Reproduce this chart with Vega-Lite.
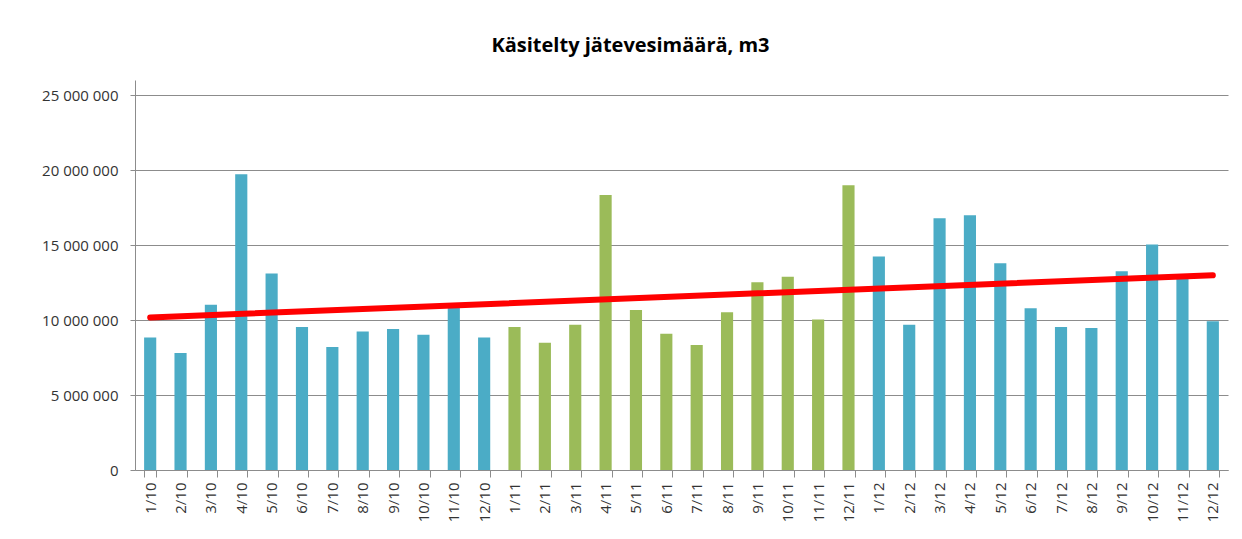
{
  "$schema": "https://vega.github.io/schema/vega-lite/v6.json",
  "width": 1093,
  "height": 390,
  "autosize": {"type": "none"},
  "padding": {"left": 135, "top": 80, "right": 14, "bottom": 69},
  "background": "white",
  "config": {
    "locale": {"number": {"decimal": ",", "thousands": " ", "grouping": [3], "currency": ["", " €"]}},
    "view": {"stroke": null},
    "font": "Open Sans"
  },
  "title": {
    "text": "Käsitelty jätevesimäärä, m3",
    "fontSize": 20,
    "fontWeight": "bold",
    "font": "Open Sans",
    "color": "#000000",
    "anchor": "middle",
    "dx": -51,
    "offset": 24
  },
  "data": {
    "values": [
      {"month": "1/10", "year": "2010", "value": 8840000, "trend": 10170000},
      {"month": "2/10", "year": "2010", "value": 7800000},
      {"month": "3/10", "year": "2010", "value": 11010000},
      {"month": "4/10", "year": "2010", "value": 19720000},
      {"month": "5/10", "year": "2010", "value": 13100000},
      {"month": "6/10", "year": "2010", "value": 9530000},
      {"month": "7/10", "year": "2010", "value": 8200000},
      {"month": "8/10", "year": "2010", "value": 9240000},
      {"month": "9/10", "year": "2010", "value": 9400000},
      {"month": "10/10", "year": "2010", "value": 9020000},
      {"month": "11/10", "year": "2010", "value": 10850000},
      {"month": "12/10", "year": "2010", "value": 8840000},
      {"month": "1/11", "year": "2011", "value": 9530000},
      {"month": "2/11", "year": "2011", "value": 8490000},
      {"month": "3/11", "year": "2011", "value": 9690000},
      {"month": "4/11", "year": "2011", "value": 18330000},
      {"month": "5/11", "year": "2011", "value": 10660000},
      {"month": "6/11", "year": "2011", "value": 9090000},
      {"month": "7/11", "year": "2011", "value": 8330000},
      {"month": "8/11", "year": "2011", "value": 10510000},
      {"month": "9/11", "year": "2011", "value": 12520000},
      {"month": "10/11", "year": "2011", "value": 12880000},
      {"month": "11/11", "year": "2011", "value": 10040000},
      {"month": "12/11", "year": "2011", "value": 18990000},
      {"month": "1/12", "year": "2012", "value": 14230000},
      {"month": "2/12", "year": "2012", "value": 9690000},
      {"month": "3/12", "year": "2012", "value": 16780000},
      {"month": "4/12", "year": "2012", "value": 16980000},
      {"month": "5/12", "year": "2012", "value": 13790000},
      {"month": "6/12", "year": "2012", "value": 10790000},
      {"month": "7/12", "year": "2012", "value": 9530000},
      {"month": "8/12", "year": "2012", "value": 9460000},
      {"month": "9/12", "year": "2012", "value": 13250000},
      {"month": "10/12", "year": "2012", "value": 15030000},
      {"month": "11/12", "year": "2012", "value": 12950000},
      {"month": "12/12", "year": "2012", "value": 9910000, "trend": 12980000}
    ]
  },
  "encoding": {
    "x": {
      "field": "month",
      "type": "ordinal",
      "sort": null,
      "scale": {"paddingInner": 0.6, "paddingOuter": 0.3},
      "axis": {
        "title": null,
        "labelAngle": 270,
        "labelAlign": "right",
        "labelBaseline": "middle",
        "labelFontSize": 15,
        "labelColor": "#333333",
        "labelPadding": 5,
        "tickBand": "extent",
        "tickSize": 7,
        "tickColor": "#8c8c8c",
        "domainColor": "#8c8c8c",
        "grid": false
      }
    }
  },
  "layer": [
    {
      "mark": {"type": "bar"},
      "encoding": {
        "y": {
          "field": "value",
          "type": "quantitative",
          "scale": {"domain": [0, 25000000]},
          "axis": {
            "title": null,
            "values": [0, 5000000, 10000000, 15000000, 20000000, 25000000],
            "format": ",d",
            "labelFontSize": 15,
            "labelColor": "#333333",
            "labelPadding": 12,
            "tickSize": 5,
            "tickColor": "#8c8c8c",
            "domainColor": "#8c8c8c",
            "gridColor": "#8c8c8c",
            "gridWidth": 1
          }
        },
        "color": {
          "field": "year",
          "type": "nominal",
          "scale": {"domain": ["2010", "2011", "2012"], "range": ["#4BACC6", "#9BBB59", "#4BACC6"]},
          "legend": null
        }
      }
    },
    {
      "transform": [{"filter": "isValid(datum.trend)"}],
      "mark": {"type": "line", "color": "#FF0000", "strokeWidth": 6, "strokeCap": "round"},
      "encoding": {
        "y": {"field": "trend", "type": "quantitative"}
      }
    }
  ]
}
